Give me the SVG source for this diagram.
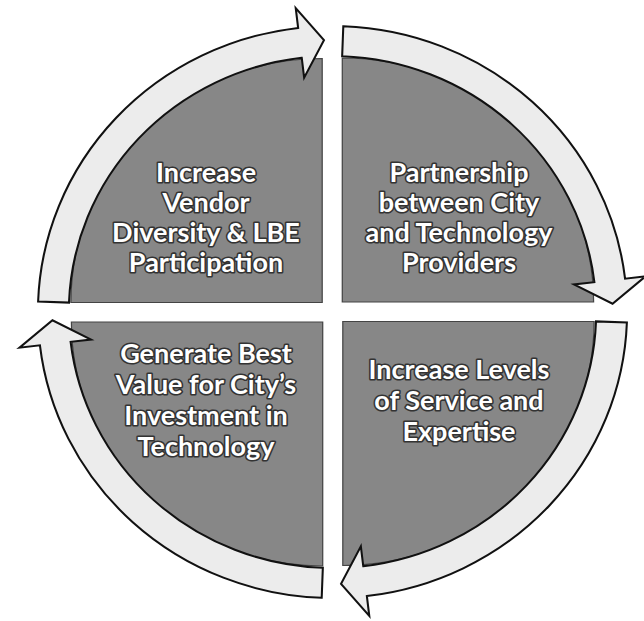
<svg xmlns="http://www.w3.org/2000/svg" width="644" height="621" viewBox="0 0 644 621">
<defs>
<style>
.quad{fill:#878787;stroke:#444;stroke-width:1.2}
.arrow{fill:#ececec;stroke:#111;stroke-width:2;stroke-linejoin:miter}
.lbl{font-family:Lato,"Open Sans","Liberation Sans",sans-serif;font-weight:700;font-size:27px;fill:#fff;stroke:#333;stroke-width:3.2;paint-order:stroke;text-anchor:middle;stroke-linejoin:round}
</style>
<path id="arr" d="M10.48,-285.81 A286,286 0 0 1 284.05,-33.37 L303.91,-35.70 L271.89,-8.28 L234.39,-27.53 L254.25,-29.87 A256,256 0 0 0 9.38,-255.83 Z"/>
<path id="q" d="M9.5,-10 V-254 A244,244 0 0 1 253.5,-10 Z"/>
</defs>
<rect width="644" height="621" fill="#fff"/>
<g id="node-vendor-diversity">
<use href="#q" class="quad" transform="translate(332.5 312) scale(1.03 1) rotate(270)"/>
<text class="lbl" x="206" y="182">Increase</text>
<text class="lbl" x="206" y="212">Vendor</text>
<text class="lbl" x="206" y="242">Diversity &amp; LBE</text>
<text class="lbl" x="206" y="272">Participation</text>
</g>
<g id="node-partnership">
<use href="#q" class="quad" transform="translate(332.5 312) scale(1.03 1)"/>
<text class="lbl" x="459" y="182">Partnership</text>
<text class="lbl" x="459" y="212">between City</text>
<text class="lbl" x="459" y="242">and Technology</text>
<text class="lbl" x="459" y="272">Providers</text>
</g>
<g id="node-service">
<use href="#q" class="quad" transform="translate(332.5 312) scale(1.03 1) rotate(90)"/>
<text class="lbl" x="459" y="379">Increase Levels</text>
<text class="lbl" x="459" y="410">of Service and</text>
<text class="lbl" x="459" y="441">Expertise</text>
</g>
<g id="node-best-value">
<use href="#q" class="quad" transform="translate(332.5 312) scale(1.03 1) rotate(180)"/>
<text class="lbl" x="206" y="363">Generate Best</text>
<text class="lbl" x="206" y="394">Value for City’s</text>
<text class="lbl" x="206" y="425">Investment in</text>
<text class="lbl" x="206" y="456">Technology</text>
</g>
<g id="connectors" transform="translate(332.5 312) scale(1.03 1)">
<use href="#arr" class="arrow"/>
<use href="#arr" class="arrow" transform="rotate(90)"/>
<use href="#arr" class="arrow" transform="rotate(180)"/>
<use href="#arr" class="arrow" transform="rotate(270)"/>
</g>
</svg>
